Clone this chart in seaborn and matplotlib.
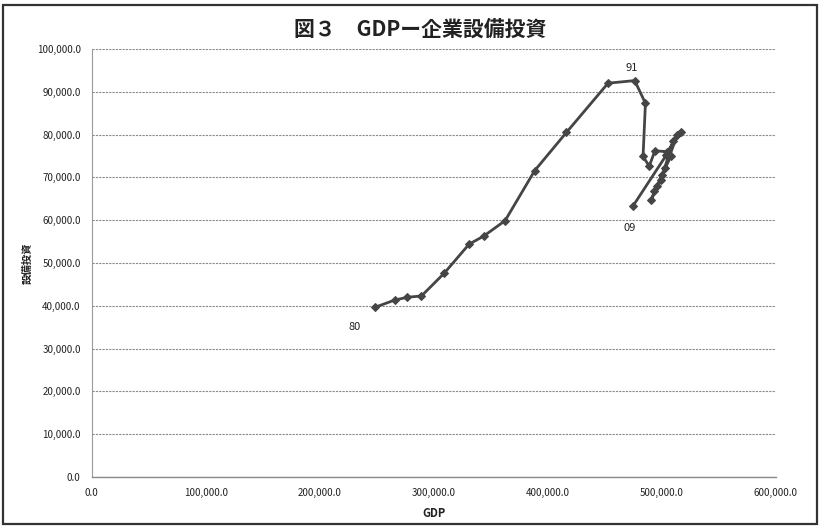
import matplotlib
matplotlib.use("Agg")
import matplotlib.pyplot as plt
from matplotlib.patches import Rectangle
from matplotlib.ticker import FuncFormatter, MultipleLocator
import seaborn as sns
import pandas as pd

years = list(range(1980, 2010))
gdp = [248300, 265800, 276900, 289200, 309100, 331000, 343900, 362600, 388600, 416400,
       452900, 476300, 485700, 483600, 489000, 494000, 505000, 517300, 510000, 502500,
       508000, 500000, 491000, 493500, 495500, 499500, 505000, 513500, 504000, 475000]
investment = [39650, 41350, 42000, 42300, 47600, 54400, 56300, 59900, 71600, 80500,
              92000, 92600, 87300, 74900, 72600, 76200, 76500, 80700, 78500, 72100,
              75000, 70600, 64800, 66700, 67900, 69400, 75500, 79900, 75200, 63400]
year_labels = {"80": (230700, 35000), "91": (473700, 95600), "09": (471900, 58200)}

df = pd.DataFrame({"year": years, "GDP": gdp, "設備投資": investment})

sns.set_theme(style="white")
plt.rcParams["font.family"] = ["Noto Sans CJK JP", "DejaVu Sans"]

fig = plt.figure(figsize=(8.2, 5.26), dpi=100)
ax = fig.add_axes([0.112, 0.093, 0.834, 0.814])

line_color = "#454545"
sns.lineplot(data=df, x="GDP", y="設備投資", sort=False, ax=ax,
             color=line_color, linewidth=2.0, marker="D", markersize=4,
             markeredgecolor=line_color, markerfacecolor=line_color)

ax.set_xlim(0, 600000)
ax.set_ylim(0, 100000)
ax.xaxis.set_major_locator(MultipleLocator(100000))
ax.yaxis.set_major_locator(MultipleLocator(10000))
fmt = FuncFormatter(lambda v, p: f"{v:,.1f}")
ax.xaxis.set_major_formatter(fmt)
ax.yaxis.set_major_formatter(fmt)
ax.tick_params(axis="both", length=0, labelsize=7, colors="#222222", pad=8)

ax.yaxis.grid(True, color="#8a8a8a", linestyle=(0, (2, 1)), linewidth=0.8)
ax.xaxis.grid(False)
for side in ("top", "right"):
    ax.spines[side].set_visible(False)
ax.spines["left"].set_color("#9a9a9a")
ax.spines["left"].set_linestyle((0, (2, 1)))
ax.spines["left"].set_linewidth(0.8)
ax.spines["bottom"].set_color("#8a8a8a")
ax.spines["bottom"].set_linewidth(1.0)

ax.set_xlabel("GDP", fontsize=8, fontweight="bold", color="#222222", labelpad=6)
ax.set_ylabel("設備投資", fontsize=7.5, fontweight="bold", color="#222222", labelpad=3)

for txt, (x, y) in year_labels.items():
    ax.text(x, y, txt, fontsize=8, color="#222222", ha="center", va="center")

fig.text(0.512, 0.945, "図３　GDPー企業設備投資", ha="center", va="center",
         fontsize=15, fontweight="bold", color="#222222")

fig.patches.append(Rectangle((0.004, 0.004), 0.992, 0.986, transform=fig.transFigure,
                             fill=False, edgecolor="#333333", linewidth=1.6))

fig.savefig("out.png", dpi=100)
